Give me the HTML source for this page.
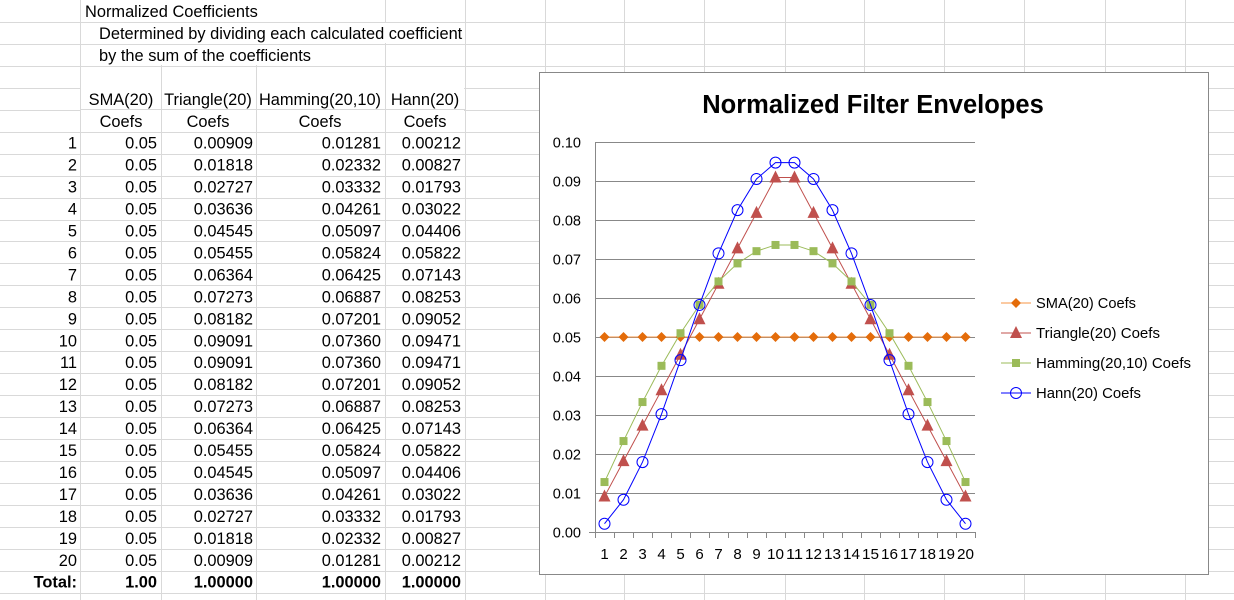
<!DOCTYPE html>
<html><head><meta charset="utf-8"><style>
body{margin:0;width:1234px;height:600px;overflow:hidden;background:#fff;font-family:"Liberation Sans",Arial,sans-serif;}
svg{position:absolute;left:0;top:0}
</style></head><body>
<svg id="s" width="1234" height="600" xmlns="http://www.w3.org/2000/svg"></svg>
<script>
const s=document.getElementById('s');let h='';
const RH=21.95;
for(let k=1;k<=28;k++){const y=Math.round(k*RH)+0.5;h+=`<line x1="0" y1="${y}" x2="1234" y2="${y}" stroke="#d9d9d9"/>`;}
const cols=[80,161,256,385,465,545,624,704,785,864,944,1024,1105,1185];
cols.forEach(x=>{h+=`<line x1="${x+0.5}" y1="0" x2="${x+0.5}" y2="600" stroke="#d9d9d9"/>`;});
h+=`<rect x="81" y="0" width="303" height="65" fill="#fff"/>`;
h+=`<rect x="384" y="23" width="80" height="20" fill="#fff"/>`;
for(let k=1;k<=2;k++){const y=Math.round(k*RH)+0.5;h+=`<line x1="81" y1="${y}" x2="385" y2="${y}" stroke="#d9d9d9"/>`;}
h+=`<rect x="81" y="88" width="383" height="43" fill="#fff"/>`;
h+=`<line x1="81" y1="109.5" x2="465" y2="109.5" stroke="#d9d9d9"/>`;
[161,256,385].forEach(x=>{h+=`<line x1="${x+0.5}" y1="88" x2="${x+0.5}" y2="131" stroke="#d9d9d9"/>`;});
const T=(x,y,t,a,extra)=>`<text x="${x}" y="${y}" font-size="16.4" text-anchor="${a||'start'}" ${extra||''} fill="#000">${t}</text>`;
const cy=k=>k*RH+17;
h+=T(85,cy(0),'Normalized Coefficients');
h+=T(99,cy(1),'Determined by dividing each calculated coefficient');
h+=T(99,cy(2),'by the sum of the coefficients');
const hd=[['SMA(20)','Coefs',121],['Triangle(20)','Coefs',208],['Hamming(20,10)','Coefs',320],['Hann(20)','Coefs',425]];
hd.forEach(c=>{h+=T(c[2],cy(4),c[0],'middle');h+=T(c[2],cy(5),c[1],'middle');});
const tri=[0.00909,0.01818,0.02727,0.03636,0.04545,0.05455,0.06364,0.07273,0.08182,0.09091];
const ham=[0.01281,0.02332,0.03332,0.04261,0.05097,0.05824,0.06425,0.06887,0.07201,0.07360];
const han=[0.00212,0.00827,0.01793,0.03022,0.04406,0.05822,0.07143,0.08253,0.09052,0.09471];
const m=a=>a.concat(a.slice().reverse());
const T2=m(tri),H2=m(ham),N2=m(han);
for(let i=0;i<20;i++){const y=cy(6+i);
h+=T(77,y,i+1,'end');h+=T(157,y,'0.05','end');h+=T(253,y,T2[i].toFixed(5),'end');h+=T(381,y,H2[i].toFixed(5),'end');h+=T(461,y,N2[i].toFixed(5),'end');}
const yt=cy(26);const b='font-weight="bold"';
h+=T(77,yt,'Total:','end',b);h+=T(157,yt,'1.00','end',b);h+=T(253,yt,'1.00000','end',b);h+=T(381,yt,'1.00000','end',b);h+=T(461,yt,'1.00000','end',b);
h+=`<rect x="539.5" y="72.5" width="669" height="502" fill="#fff" stroke="#888"/>`;
h+=`<text x="873" y="113" font-size="25.5" font-weight="bold" text-anchor="middle" fill="#000">Normalized Filter Envelopes</text>`;
const Y=v=>532-v*3900, X=i=>595+19*(i+0.5);
for(let k=0;k<=10;k++){const y=Math.round(Y(k/100))+0.5;h+=`<line x1="${k?595:589}" y1="${y}" x2="975" y2="${y}" stroke="#888"/>`;
h+=`<text x="581" y="${y+5}" font-size="14.5" text-anchor="end" fill="#000">${(k/100).toFixed(2)}</text>`;}
h+=`<line x1="595.5" y1="142" x2="595.5" y2="532" stroke="#888"/>`;
for(let i=0;i<=20;i++){const x=Math.round(595+19*i)+0.5;h+=`<line x1="${x}" y1="532" x2="${x}" y2="538" stroke="#888"/>`;}
for(let i=0;i<20;i++)h+=`<text x="${X(i)}" y="559" font-size="15" text-anchor="middle" fill="#000" ${i>=9?'textLength="17" lengthAdjust="spacingAndGlyphs"':''}>${i+1}</text>`;
const S=Array(20).fill(0.05);
const line=(d,c)=>`<polyline fill="none" stroke="${c}" stroke-width="1" points="${d.map((v,i)=>X(i)+','+Y(v)).join(' ')}"/>`;
const dia=(x,y,c)=>`<polygon points="${x},${y-5} ${x+5},${y} ${x},${y+5} ${x-5},${y}" fill="${c}"/>`;
const trg=(x,y,c)=>`<polygon points="${x},${y-7} ${x+6},${y+5} ${x-6},${y+5}" fill="${c}"/>`;
const sq=(x,y,c)=>`<rect x="${x-4}" y="${y-4}" width="8" height="8" fill="${c}"/>`;
const cir=(x,y,c)=>`<circle cx="${x}" cy="${y}" r="5.5" fill="none" stroke="${c}"/>`;
const ser=[[S,'#F79646','#E46C0A',dia],[T2,'#C0504D','#C0504D',trg],[H2,'#9BBB59','#9BBB59',sq],[N2,'#0000FF','#0000FF',cir]];
ser.forEach(([d,lc,mc,f])=>{h+=line(d,lc);d.forEach((v,i)=>h+=f(X(i),Y(v),mc));});
const names=['SMA(20) Coefs','Triangle(20) Coefs','Hamming(20,10) Coefs','Hann(20) Coefs'];
ser.forEach(([d,lc,mc,f],j)=>{const y=303+30*j;h+=`<line x1="1001" y1="${y}" x2="1031" y2="${y}" stroke="${lc}"/>`+f(1016,y,mc);
h+=`<text x="1036" y="${y+5}" font-size="15" fill="#000" textLength="${[100,124,155,105][j]}" lengthAdjust="spacingAndGlyphs">${names[j]}</text>`;});
s.innerHTML=h;
</script>
</body></html>
